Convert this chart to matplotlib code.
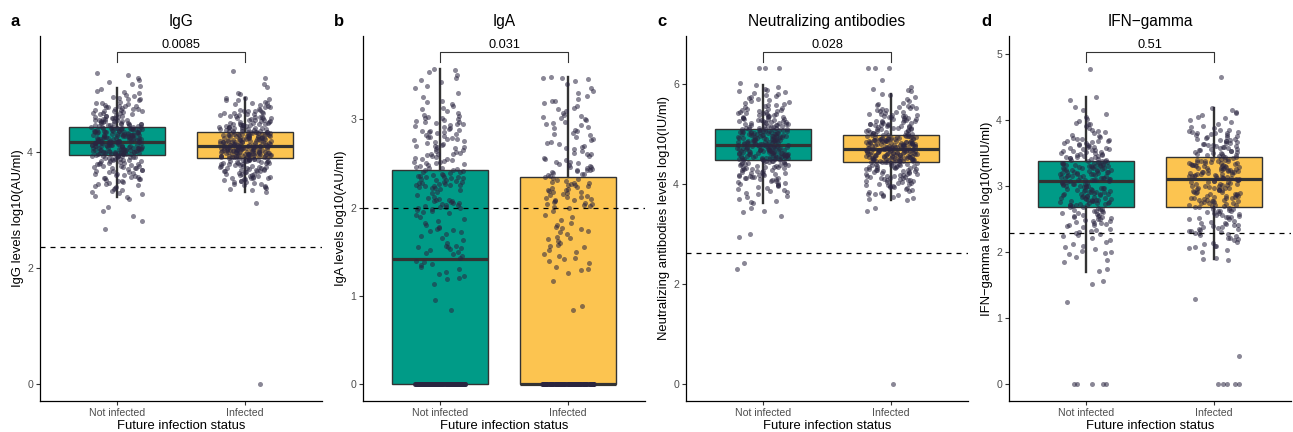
import numpy as np
import matplotlib
matplotlib.use("Agg")
import matplotlib.pyplot as plt
import matplotlib.transforms as mtransforms

plt.rcParams['font.family'] = ['Liberation Sans', 'DejaVu Sans']

# ---------------- data (in 1/100 log10 units) ----------------
groups = ["Not infected", "Infected"]
titles = ["IgG", "IgA", "Neutralizing antibodies", "IFN\u2212gamma"]
panel_letters = ["a", "b", "c", "d"]
ylabels = ["IgG levels log10(AU/ml)", "IgA levels log10(AU/ml)",
           "Neutralizing antibodies levels log10(IU/ml)", "IFN\u2212gamma levels log10(mIU/ml)"]
pvalues = ["0.0085", "0.031", "0.028", "0.51"]
thresholds = [2.36, 2.00, 2.62, 2.30]

# box statistics [Not infected, Infected]
box_q1 = [[3.947, 3.907], [0.0, 0.0], [4.477, 4.43], [2.692, 2.68]]
box_median = [[4.18, 4.11], [1.417, 0.0], [4.77, 4.69], [3.076, 3.106]]
box_q3 = [[4.435, 4.355], [2.423, 2.34], [5.095, 4.98], [3.384, 3.444]]
whisker_low = [[3.22, 3.316], [0.0, 0.0], [3.61, 3.68], [1.707, 1.894]]
whisker_high = [[5.11, 4.94], [3.566, 3.48], [5.973, 5.79], [4.35, 4.18]]

igg_not_infected = np.array("""
385 386 388 389 390 391 391 392 393 393 394 394 387 389 392 390 386 394
370 371 372 373 374 375 376 377 378 379 380 381 382 383 384 372 376 379 381 384
355 356 358 359 361 362 363 364 366 367 368 369 357 360 365
340 342 344 345 347 348 350 351 352 353 354 346
322 325 328 330 333 335 337 339 331
320 305 299 290 282 267
395 395 396 396 396 397 397 397 398 398 398 399 399 399 400 400 400 400
401 401 401 402 402 402 403 403 403 404 404 404 405 405 405 406 406 406
407 407 407 408 408 408 409 409 409 410 410 410 411 411 411 412 412 412
413 413 413 414 414 414 415 415 415 416 416 416 417 417 417 418 418 418
396 400 404 408 412 416 399 410
419 419 419 420 420 420 421 421 421 422 422 422 423 423 423 424 424 424
425 425 425 426 426 426 427 427 427 428 428 428 429 429 429 430 430 430
431 431 431 432 432 432 433 433 433 434 434 434 435 435 435 436 436 436
437 437 437 438 438 438 439 439 439 440 440 440 441 441 441 442 442 442
443 443 443 420 425 430 435 440
444 445 446 447 448 449 450 451 452 453 454 455 456 457 458 459
444 446 448 450 452 454 456 458 445 449 453 457 460 447 451 455
461 462 463 464 465 466 467 468 469 470 471 472 473 474 475 476 477 478 479 480
463 467 471 475 479
481 483 485 487 489 491 493 495 497 499 484 492
501 504 506 509
537 533 528 524 521 518 514
""".split(), dtype=float) / 100

igg_infected = np.array("""
380 381 382 383 384 385 386 387 388 389 390 381 383 385 387 389 382 386 390 384
365 366 367 368 369 370 371 372 373 374 375 376 377 378 379 367 370 373 376 379
350 351 352 353 354 355 356 357 358 359 360 361 362 363 364 356
332 334 336 338 340 342 343 345 346 347 348 349
313 0
355 362 368 374 378 383 388 390 359 371
391 392 393 394 395 396 397 398 399 400 401 402 403 404 405 406 407 408 409 410
391 392 393 394 395 396 397 398 399 400 401 402 403 404 405 406 407 408 409 410
391 392 393 394 395 396 397 398 399 400 401 402 403 404 405 406 407 408 409 410
391 392 393 394 395 396 397 398 399 400 401 402 403 404 405 406 407 408 409 410
411 412 413 414 415 416 417 418 419 420 421 422 423 424 425 426 427 428 429 430 431 432 433 434 435
411 412 413 414 415 416 417 418 419 420 421 422 423 424 425 426 427 428 429 430 431 432 433 434 435
411 412 413 414 415 416 417 418 419 420 421 422 423 424 425 426 427 428 429 430 431 432 433 434 435
412 418 424 430 434
436 437 438 439 440 441 442 443 444 445 446 447 448 449 450
436 437 438 439 440 441 442 443 444 445 446 447 448 449 450
451 452 453 454 455 456 457 458 459 460 461 462 463 464 465 466 467 468 469 470
452 455 458 461 464 467 470 473
471 473 475 477 479 481 483 485 487 489 491 493 494 478 484 490
540 527 517 512 502 500
""".split(), dtype=float) / 100

iga_not_infected_nonzero = np.array("""
243 244 245 246 247 248 249 250 251 252 253 254 255 256 257 258 259 260 261 262 263 264 265 266
267 268 269 270 271 272 273 274 275 276 277 278 279 280 281 282 283 284 285 286 287 288 289 290
245 250 255 260 270 280 285
291 292 293 294 295 296 297 298 299 300 301 302 303 305 307 309 311 313 315 317 319 297 301
321 325 330 335 338 342 344 347 350 353 355 357
220 221 222 223 224 225 226 227 228 229 230 231 232 233 234 235 236 237 238 239 240 241 242
222 225 228 231 234 237 240 224 229 233 227 236
195 196 197 198 199 200 201 202 203 204 205 206 207 208 209 210 212 214 216 218 201 203 205 207 211
170 172 174 175 176 177 178 180 183 185 187 189 191 194
143 145 147 149 150 152 153 154 155 155 156 157 160 163 166 168
84 95 114 119 122 127 130 133 136 138 140 120 125 135
""".split(), dtype=float) / 100
iga_not_infected_zero_count = 166

iga_infected_nonzero = np.array("""
235 236 237 238 239 240 241 242 243 244 245 246 247 248 249 250 252 254 256 258 260 262 264 266
268 270 272 274 276 278 280 282 284 286 288 290 238 242 246 251 255 261 267 273 283
291 293 295 297 299 300 301 303 305 307 309 311 313 315 318 320 296 302
321 323 326 329 332 335 340 343 345 346 348 347
200 201 202 203 204 205 206 207 208 209 210 211 212 213 214 215 216 217 218 219 220 221 222
223 224 225 226 227 228 229 230 231 232 233 204 212 220 228
150 152 155 157 158 160 162 164 165 167 170 172 174 176 177 178 180 183 186 189 192 196
84 89 117 126 129 133 140 142 143 145 147 130 137
""".split(), dtype=float) / 100
iga_infected_zero_count = 152

nab_not_infected = np.array("""
430 431 432 433 434 435 436 437 438 439 440 441 442 443 444 445 446 447 433 437 441 445 431 439 443
410 411 412 413 414 415 416 417 418 419 420 421 422 423 424 425 426 427 428 429 412 418
390 392 394 396 397 398 399 401 402 404 405 406 408 409
361 363 366 370 373 376 380 382 384 386 388
345 344 335 352 300 293 242 230
448 449 450 451 452 453 454 455 456 457 458 459 460 461 462 463 464 465 466 467 468 469 470 471 472 473 474 475 476 477
448 449 450 451 452 453 454 455 456 457 458 459 460 461 462 463 464 465 466 467 468 469 470 471 472 473 474 475 476 477
449 451 453 455 457 459 461 463 465 467 469 471 473 475 450 454 458 462 466 470
478 479 480 481 482 483 484 485 486 487 488 489 490 491 492 493 494 495 496 497 498 499 500 501 502 503 504 505 506 507 508 509
478 479 480 481 482 483 484 485 486 487 488 489 490 491 492 493 494 495 496 497 498 499 500 501 502 503 504 505 506 507 508 509
479 481 483 485 487 489 491 493 495 497 499 501 503 505 507 509
510 511 512 513 514 515 516 517 518 519 520 521 522 523 524 525 526 527 528 529
511 513 515 517 519 521 523 525 527 529
530 531 532 533 534 535 536 537 538 539 540 541 542 543 544 545 546 547 548 549 534 542
551 553 555 558 560 562 565 567 569 571 573 550 557 564
576 578 580 582 584 586 588 590 593 597
631 631 632 602
""".split(), dtype=float) / 100

nab_infected = np.array("""
425 426 427 428 429 430 431 432 433 434 435 436 437 438 439 440 441 442 426 428 430 432 434 436 438 440
405 406 407 408 409 410 411 412 413 414 415 416 417 418 419 420 421 422 423 424 408 412 416 420
385 387 389 391 393 395 396 397 398 399 400 401 402 403 404 394
368 370 372 374 376 377 378 379 380 382 384
352 346 0
443 444 445 446 447 448 449 450 451 452 453 454 455 456 457 458 459 460 461 462 463 464 465 466 467 468 469
443 444 445 446 447 448 449 450 451 452 453 454 455 456 457 458 459 460 461 462 463 464 465 466 467 468 469
444 445 446 447 448 449 450 451 452 453 454 455 456 457 458 459 460 461 462 463 464 465 466 467 468 469
470 471 472 473 474 475 476 477 478 479 480 481 482 483 484 485 486 487 488 489 490 491 492 493 494 495 496 497 498
470 471 472 473 474 475 476 477 478 479 480 481 482 483 484 485 486 487 488 489 490 491 492 493 494 495 496 497 498
470 471 472 473 474 475 476 477 478 479 480 481 482 483 484 485 486 487 488 489 490 491
499 500 501 502 503 504 505 506 507 508 509 510 511 512 513 514 515 516 517 518 519 520
500 503 506 509 512 515 518 520
521 522 523 524 525 526 527 528 529 530 531 532 533 534 535 536 537 538 539 540 525 535
541 543 545 547 549 551 553 555 557 559 544 548 552 556
562 566 570 574 577 579
631 631 632 607 593 590 587 585
""".split(), dtype=float) / 100

ifn_not_infected = np.array("""
250 251 252 253 254 255 256 257 258 259 260 261 262 263 264 265 266 267 268 269 255 263
230 231 233 234 236 238 240 241 242 243 244 245 246 247 248 249
200 202 205 208 210 213 215 218 221 224 226 228
171 175 186 188 193 197 199
157 152 124 0 0 0 0 0
270 271 272 273 274 275 276 277 278 279 280 281 282 283 284 285 286 287 288 289 290
291 292 293 294 295 296 297 298 299 300 301 302 303 304 305 306 307
271 273 275 277 279 281 283 285 287 289 291 293 295 297 299 301 303 305
272 276 280 284 288 292 296 300 304
308 309 310 311 312 313 314 315 316 317 318 319 320 321 322 323 324 325 326 327 328 329 330 331 332 333 334 335 336 337 338
308 309 310 311 312 313 314 315 316 317 318 319 320 321 322 323 324 325 326 327 328 329 330 331 332 333 334 335 336 337 338
310 320 330
339 340 341 342 343 344 345 346 347 348 349 350 351 352 353 354 355 356 357 358 359 360
340 343 346 349 352 355 358 345
361 362 363 364 365 366 367 368 369 370 371 372 373 374 376 378 380 382 384 369
385 388 391 394 395 396 399 402 405 409
431 435 415 420
478
""".split(), dtype=float) / 100

ifn_infected = np.array("""
250 251 252 253 254 255 256 257 258 259 260 261 262 263 264 265 266 267 254 262
230 231 232 233 234 235 236 237 238 239 240 241 242 243 244 245 246 247
210 212 214 216 218 220 221 222 224 226 227 229
189 190 191 200 204 206 208 209
130 43 0 0 0 0 0
268 269 270 271 272 273 274 275 276 277 278 279 280 281 282 283 284 285 286 287 288 289
290 291 292 293 294 295 296 297 298 299 300 301 302 303 304 305 306 307 308 309 310
270 272 274 276 278 280 282 284 286 288 290 292 294 296 298 300 302 304 306 308 283 297
311 312 313 314 315 316 317 318 319 320 321 322 323 324 325 326 327 328 329 330 331 332 333 334
335 336 337 338 339 340 341 342 343 344
311 312 313 314 315 316 317 318 319 320 321 322 323 324 325 326 327 328 329 330 331 332 333 334
335 336 337 338 339 340 341
345 346 347 348 349 350 351 352 353 354 355 356 357 358 359 360 361 362 363 364 365
346 349 352 355 358 361 364
366 367 368 369 370 371 372 373 374 375 376 377 378 379 380 381 382 383 384 385 370 380
386 388 390 392 395 398 400 403 405 408 411 413 416 418
466
""".split(), dtype=float) / 100

iga_not_infected = np.concatenate([iga_not_infected_nonzero, np.zeros(iga_not_infected_zero_count)])
iga_infected = np.concatenate([iga_infected_nonzero, np.zeros(iga_infected_zero_count)])

panel_data = [[igg_not_infected, igg_infected],
              [iga_not_infected, iga_infected],
              [nab_not_infected, nab_infected],
              [ifn_not_infected, ifn_infected]]

# ---------------- style ----------------
box_colors = ["#009B87", "#FCC450"]
point_color = "#2A2540"
ylims = [(-0.28, 6.0), (-0.185, 3.94), (-0.327, 6.95), (-0.248, 5.277)]
yticks = [[0, 2, 4], [0, 1, 2, 3], [0, 2, 4, 6], [0, 1, 2, 3, 4, 5]]
panel_left_px = [40, 363, 686, 1009]

W, H = 1293, 432
fig = plt.figure(figsize=(W / 100, H / 100), dpi=100)

def jitter(n, seed):
    i = np.arange(n)
    h = np.sin(i * 12.9898 + seed * 78.233) * 43758.5453
    return (h - np.floor(h)) * 2.0 - 1.0

ax_bottom_px, ax_top_px, ax_w_px = 400.7, 36.0, 282.0
for k in range(4):
    ax = fig.add_axes([panel_left_px[k] / W, 1 - ax_bottom_px / H, ax_w_px / W, (ax_bottom_px - ax_top_px) / H])
    stats = [dict(med=box_median[k][j], q1=box_q1[k][j], q3=box_q3[k][j],
                  whislo=whisker_low[k][j], whishi=whisker_high[k][j], fliers=[]) for j in range(2)]
    bp = ax.bxp(stats, positions=[1, 2], widths=0.75, patch_artist=True, showfliers=False, showcaps=False,
                boxprops=dict(edgecolor="#333333", linewidth=1.0),
                medianprops=dict(color="#333333", linewidth=2.3, solid_capstyle="butt"),
                whiskerprops=dict(color="#333333", linewidth=1.7), zorder=2)
    for patch, c in zip(bp["boxes"], box_colors):
        patch.set_facecolor(c)
    for j, vals in enumerate(panel_data[k]):
        x = (j + 1) + 0.2 * jitter(len(vals), 3 * k + j + 1)
        ax.scatter(x, vals, s=13, color=point_color, alpha=0.55, linewidths=0, zorder=3)
    ax.axhline(thresholds[k], color="black", lw=0.9, ls=(0, (4, 4)), zorder=4)

    ax.set_xlim(0.4, 2.6)
    ax.set_ylim(*ylims[k])
    ax.set_xticks([1, 2])
    ax.set_xticklabels(groups)
    ax.set_yticks(yticks[k])
    ax.tick_params(axis="both", length=3, width=0.8, color="#333333", labelcolor="#4D4D4D",
                   labelsize=7.6, pad=2)
    for s in ["top", "right"]:
        ax.spines[s].set_visible(False)
    for s in ["left", "bottom"]:
        ax.spines[s].set_linewidth(0.9)
        ax.spines[s].set_color("black")

    ax.set_xlabel("Future infection status", fontsize=9.4, color="black")
    ax.xaxis.set_label_coords(0.5, -0.0686)
    ax.xaxis.label.set_va("center")
    ax.set_ylabel(ylabels[k], fontsize=9.4, color="black")
    ax.yaxis.set_label_coords(-0.077, 0.5)
    ax.yaxis.label.set_va("center")

    ax.text(0.5, 1.039, titles[k], transform=ax.transAxes, ha="center", va="center", fontsize=11.2)

    trans = mtransforms.blended_transform_factory(ax.transData, ax.transAxes)
    ax.plot([1, 1, 2, 2], [0.928, 0.955, 0.955, 0.928], transform=trans, color="#333333",
            lw=0.8, clip_on=False, zorder=5)
    ax.text(1.5, 0.975, pvalues[k], transform=trans, ha="center", va="center", fontsize=9.2)

letter_x_px = [15, 339, 662, 986]
for k in range(4):
    fig.text(letter_x_px[k] / W, 1 - 21.7 / H, panel_letters[k], ha="center", va="center",
             fontsize=12, fontweight="bold")

fig.savefig("out.png", dpi=100)
